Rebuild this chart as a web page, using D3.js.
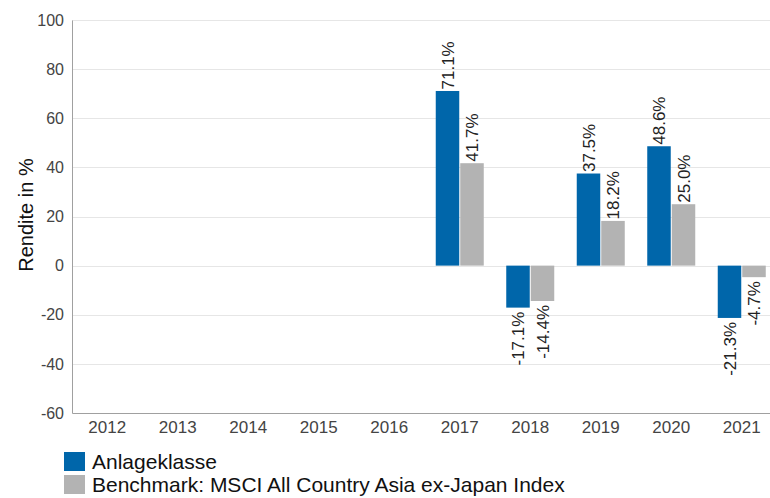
<!DOCTYPE html>
<html><head><meta charset="utf-8">
<script src="https://cdn.jsdelivr.net/npm/d3@7"></script>
<style>body{margin:0;background:#fff}svg{display:block;font-family:"Liberation Sans",Arial,sans-serif}</style>
</head><body><svg id="c" width="770" height="498"></svg>
<script>
const years = ["2012","2013","2014","2015","2016","2017","2018","2019","2020","2021"];
const anlage = [null,null,null,null,null,71.1,-17.1,37.5,48.6,-21.3];
const bench = [null,null,null,null,null,41.7,-14.4,18.2,25.0,-4.7];
const yTicks = [-60,-40,-20,0,20,40,60,80,100];
const seriesNames = ["Anlageklasse","Benchmark: MSCI All Country Asia ex-Japan Index"];
const colors = ["#0066aa","#b3b3b3"];

const svg = d3.select("#c");
const L = 72, R = 777, T = 20, B = 413;
const x = d3.scaleBand().domain(years).range([L, R]);
const y = d3.scaleLinear().domain([-60,100]).range([B, T]);

// grid
svg.append("g").selectAll("line").data(yTicks.filter(d=>d>-60)).join("line")
  .attr("x1", L).attr("x2", 770).attr("y1", d=>Math.round(y(d))+0.5).attr("y2", d=>Math.round(y(d))+0.5)
  .attr("stroke", "#e6e6e6").attr("stroke-width", 1);

// axes
const ya = svg.append("g").attr("transform", `translate(${L},0)`)
  .call(d3.axisLeft(y).tickValues(yTicks).tickFormat(d => String(d)).tickSize(0).tickPadding(8));
ya.select(".domain").attr("stroke", "#a0a0a0");
ya.selectAll("text").attr("font-size", 16).attr("fill", "#444").attr("font-family", "Liberation Sans, Arial, sans-serif");

const xa = svg.append("g").attr("transform", `translate(0,${B})`)
  .call(d3.axisBottom(x).tickSize(0).tickPadding(8));
xa.select(".domain").attr("stroke", "#a0a0a0");
xa.selectAll("text").attr("font-size", 17).attr("fill", "#444").attr("font-family", "Liberation Sans, Arial, sans-serif");

svg.append("text").attr("transform", `translate(33,215) rotate(-90)`)
  .attr("text-anchor", "middle").attr("font-size", 20).attr("fill", "#111").text("Rendite in %");

// bars
const bw = 23.5, gap = 1;
const series = [anlage, bench];
series.forEach((vals, si) => {
  const data = years.map((yr, i) => ({yr, v: vals[i]})).filter(d => d.v !== null);
  const g = svg.append("g");
  const bx = d => x(d.yr) + x.bandwidth()/2 + (si === 0 ? -bw - gap/2 : gap/2);
  g.selectAll("rect").data(data).join("rect")
    .attr("x", bx).attr("width", bw)
    .attr("y", d => y(Math.max(0, d.v))).attr("height", d => Math.abs(y(d.v) - y(0)))
    .attr("fill", colors[si]);
  g.selectAll("text").data(data).join("text")
    .attr("transform", d => `translate(${bx(d) + bw/2 + 6},${d.v >= 0 ? y(d.v) - 1.5 : y(d.v) + 4}) rotate(-90)`)
    .attr("text-anchor", d => d.v >= 0 ? "start" : "end")
    .attr("font-size", 17).attr("fill", "#222")
    .text(d => d.v.toFixed(1) + "%");
});

// legend
const lg = svg.append("g");
seriesNames.forEach((n, i) => {
  lg.append("rect").attr("x", 64).attr("y", 452 + i*23).attr("width", 21).attr("height", 19).attr("fill", colors[i]);
  lg.append("text").attr("x", 92).attr("y", 468.5 + i*23.3).attr("font-size", 21).attr("fill", "#111").text(n);
});
</script></body></html>
